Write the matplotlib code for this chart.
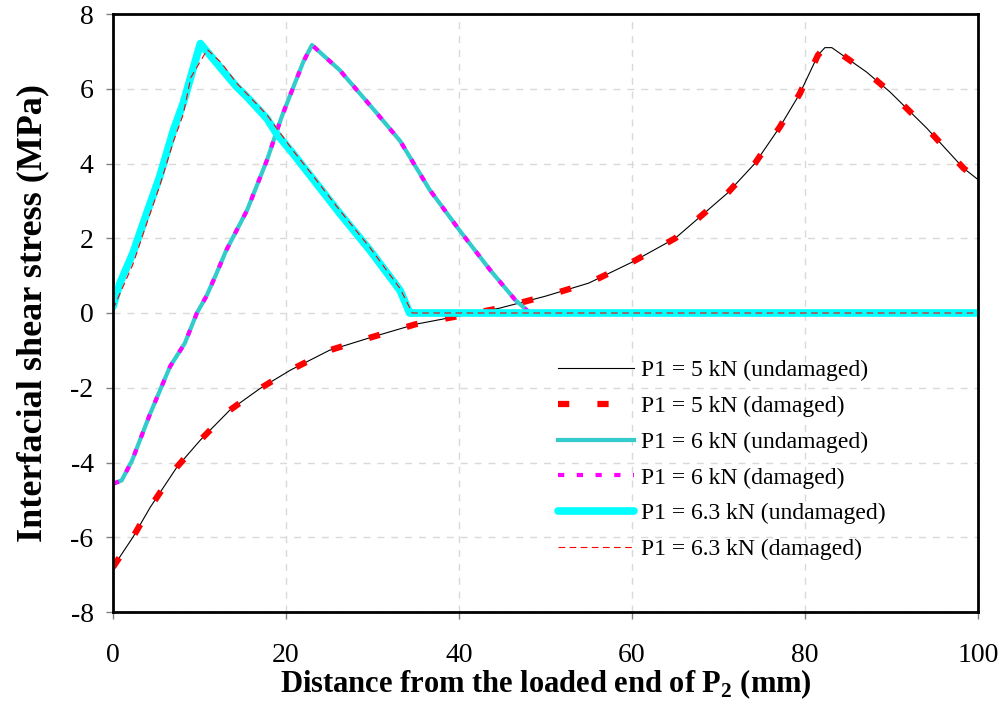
"""Interfacial shear stress along the bond length"""

import matplotlib.pyplot as plt

plt.rcParams['font.family'] = ['Liberation Serif', 'DejaVu Serif']
plt.rcParams['mathtext.fontset'] = 'custom'
plt.rcParams['mathtext.rm'] = 'Liberation Serif'
plt.rcParams['mathtext.bf'] = 'Liberation Serif:bold'
plt.rcParams['axes.unicode_minus'] = False

# P1 = 5 kN
x5 = [0, 2.3, 4.3, 7.4, 10.1, 13.5, 17, 20.5, 25, 30, 35, 40, 44.7, 50, 55, 60, 65,
      67.9, 71, 74.2, 77.1, 79.4, 81.5, 82.3, 83.1, 87.1, 89.8, 94.1, 98.3, 100]
y5 = [-6.8, -6.0, -5.2, -4.12, -3.4, -2.6, -2.02, -1.53, -1.0, -0.64, -0.3, -0.08, 0.13,
      0.45, 0.8, 1.36, 2.0, 2.58, 3.2, 4.0, 4.98, 5.87, 6.9, 7.1, 7.1, 6.45, 5.92, 4.94, 3.88, 3.57]
y5_dam = y5

# P1 = 6 kN
x6 = [0, 1, 2.2, 4.3, 6.6, 8.3, 9.7, 10.8, 11.8, 13.1, 15.5, 17.8, 19.5, 22, 23, 26.2,
      30.3, 33.2, 36.6, 40.1, 43.6, 46.5, 48.2, 100]
y6 = [-4.57, -4.48, -3.95, -2.69, -1.43, -0.81, 0, 0.45, 0.97, 1.68, 2.75, 4.09, 5.25,
      6.72, 7.17, 6.5, 5.4, 4.6, 3.3, 2.2, 1.15, 0.35, 0, 0]
y6_dam = y6

# P1 = 6.3 kN
x63 = [0, 0.8, 2.3, 3.9, 5.4, 7.0, 8.1, 10.1, 12.0, 14.3, 15.5, 17.8, 18.9, 20.8, 23.2,
       26.2, 29.7, 33.2, 34.3, 100]
y63 = [0.17, 0.8, 1.6, 2.67, 3.65, 4.9, 5.6, 7.21, 6.68, 6.05, 5.78, 5.2, 4.8, 4.27, 3.56,
       2.67, 1.68, 0.6, 0, 0]
x63_dam = [0, 2.3, 3.9, 5.4, 7.0, 8.1, 9.0, 10.9, 12.5, 14.3, 17.8, 20.8, 23.2, 26.2,
           29.7, 33.2, 34.6, 100]
y63_dam = [0.1, 1.3, 2.4, 3.4, 4.6, 5.3, 6.3, 7.05, 6.7, 6.15, 5.3, 4.35, 3.65, 2.75,
           1.75, 0.65, 0, 0]

fig = plt.figure(figsize=(10.03, 7.02), dpi=100)
ax = fig.add_axes([113 / 1003, 1 - 612 / 702, 865 / 1003, 598 / 702])

ax.plot(x5, y5, color='black', lw=0.8, label='P1 = 5 kN (undamaged)')
ax.plot(x5, y5_dam, color='red', lw=4.5, dashes=(1.8, 4.5), label='P1 = 5 kN (damaged)')
ax.plot(x6, y6, color='#33CCCC', lw=3, label='P1 = 6 kN (undamaged)')
ax.plot(x6, y6_dam, color='magenta', lw=3, dashes=(1.5, 3), label='P1 = 6 kN (damaged)')
ax.plot(x63, y63, color='cyan', lw=5.5, solid_capstyle='round', label='P1 = 6.3 kN (undamaged)')
ax.plot(x63_dam, y63_dam, color='red', lw=0.8, dashes=(6, 4), label='P1 = 6.3 kN (damaged)')

ax.set_xlim(0, 100)
ax.set_ylim(-8, 8)
ax.set_xticks(range(0, 101, 20))
ax.set_yticks(range(-8, 9, 2))
ax.grid(color='#d9d9d9', ls=(0, (5, 5)), lw=1)
ax.set_axisbelow(True)
for s in ax.spines.values():
    s.set_linewidth(2)
ax.tick_params(direction='out', length=5, width=1, color='gray', labelsize=20)
ax.tick_params(axis='x', pad=17)
ax.tick_params(axis='y', pad=9)

ax.set_xlabel(r'Distance from the loaded end of P$_\mathbf{2}$ (mm)', fontsize=22, fontweight='bold')
ax.set_ylabel('Interfacial shear stress (MPa)', fontsize=26, fontweight='bold')
ax.xaxis.set_label_coords(0.5, -0.093)
ax.yaxis.set_label_coords(-0.074, 0.5)

ax.legend(loc='upper left', bbox_to_anchor=(0.49, 0.457), frameon=False, fontsize=17,
          handlelength=3.2, labelspacing=0.6, handletextpad=0.3)

plt.savefig('out.png', dpi=100)
